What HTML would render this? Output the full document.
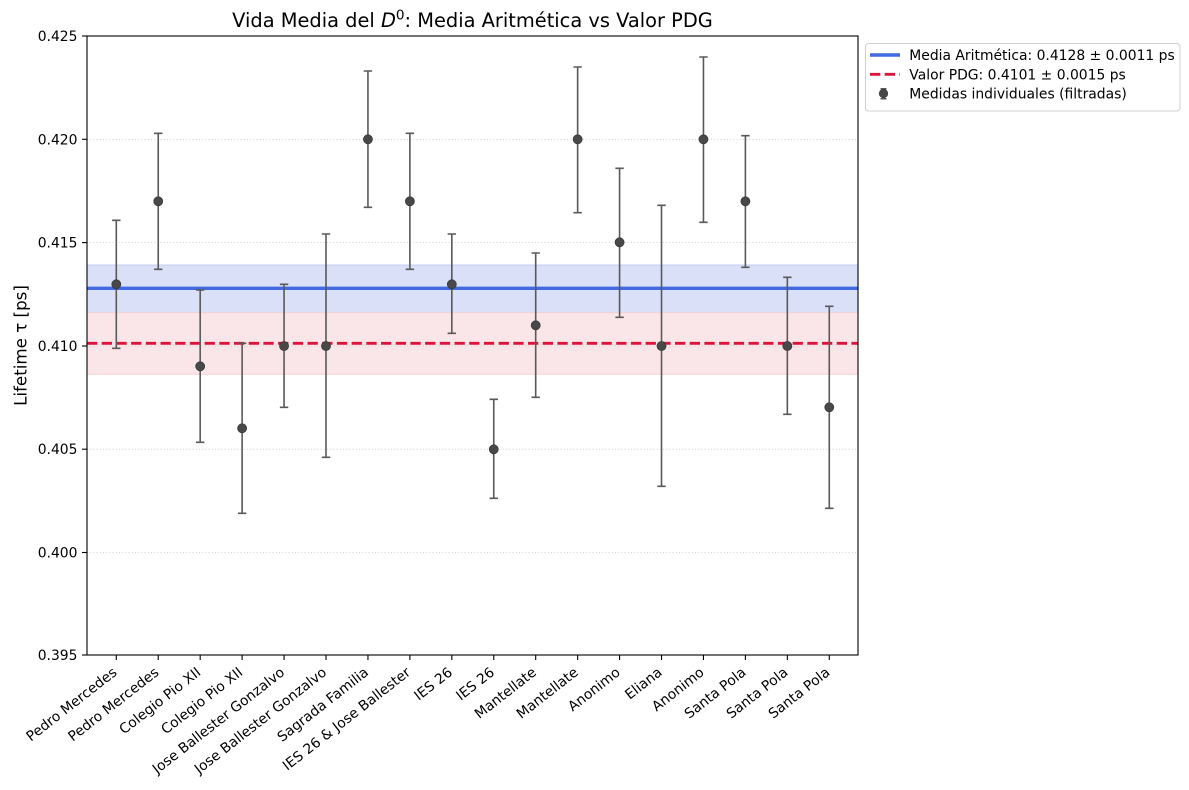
<!DOCTYPE html>
<html>
<head>
<meta charset="utf-8">
<style>
html,body{margin:0;padding:0;background:#fff;}
svg{display:block;font-family:"DejaVu Sans","Liberation Sans",sans-serif;}
</style>
</head>
<body>
<svg width="1189" height="790" viewBox="0 0 1189 790" xmlns="http://www.w3.org/2000/svg">
<rect x="0" y="0" width="1189" height="790" fill="#fff"/>

<!-- bands -->
<rect x="87" y="265" width="771" height="47.7" fill="#d9e0f8" stroke="#c3cdf3" stroke-width="1"/>
<rect x="87" y="312.7" width="771" height="61.6" fill="#fae5e9" stroke="#f6d3da" stroke-width="1"/>

<!-- grid -->
<g stroke="#c8c8c8" stroke-width="0.8" stroke-dasharray="1,2.2">
<line x1="87" y1="139.3" x2="858" y2="139.3"/>
<line x1="87" y1="242.6" x2="858" y2="242.6"/>
<line x1="87" y1="346" x2="858" y2="346"/>
<line x1="87" y1="449.2" x2="858" y2="449.2"/>
<line x1="87" y1="552.5" x2="858" y2="552.5"/>
</g>

<!-- mean & pdg lines -->
<line x1="87" y1="288.3" x2="858" y2="288.3" stroke="#4169e1" stroke-width="3.4"/>
<line x1="87" y1="343.3" x2="858" y2="343.3" stroke="#dc143c" stroke-width="2.8" stroke-dasharray="10.3,4.4"/>

<!-- error bars -->
<g stroke="#595959" stroke-width="1.6" fill="none">
<path d="M116.3 220.3V348.3M112.1 220.3h8.4M112.1 348.3h8.4"/>
<path d="M158.24 133.3V269.3M154.04 133.3h8.4M154.04 269.3h8.4"/>
<path d="M200.18 290V442.3M195.98 290h8.4M195.98 442.3h8.4"/>
<path d="M242.12 343.3V513.3M237.92 343.3h8.4M237.92 513.3h8.4"/>
<path d="M284.06 284.3V407.3M279.86 284.3h8.4M279.86 407.3h8.4"/>
<path d="M326 234V457.3M321.8 234h8.4M321.8 457.3h8.4"/>
<path d="M367.94 71V207.3M363.74 71h8.4M363.74 207.3h8.4"/>
<path d="M409.88 133.3V269.3M405.68 133.3h8.4M405.68 269.3h8.4"/>
<path d="M451.82 234V333.3M447.62 234h8.4M447.62 333.3h8.4"/>
<path d="M493.76 399.3V498.3M489.56 399.3h8.4M489.56 498.3h8.4"/>
<path d="M535.7 253V397.3M531.5 253h8.4M531.5 397.3h8.4"/>
<path d="M577.64 67V212.7M573.44 67h8.4M573.44 212.7h8.4"/>
<path d="M619.58 168.3V317.3M615.38 168.3h8.4M615.38 317.3h8.4"/>
<path d="M661.52 205.3V486.3M657.32 205.3h8.4M657.32 486.3h8.4"/>
<path d="M703.46 57V222.3M699.26 57h8.4M699.26 222.3h8.4"/>
<path d="M745.4 135.7V267.3M741.2 135.7h8.4M741.2 267.3h8.4"/>
<path d="M787.34 277.3V414.3M783.14 277.3h8.4M783.14 414.3h8.4"/>
<path d="M829.28 306.3V508.3M825.08 306.3h8.4M825.08 508.3h8.4"/>
</g>
<g fill="#484848" stroke="#3a3a3a" stroke-width="0.8">
<circle cx="116.3" cy="284.3" r="4.5"/>
<circle cx="158.24" cy="201.3" r="4.5"/>
<circle cx="200.18" cy="366.3" r="4.5"/>
<circle cx="242.12" cy="428.3" r="4.5"/>
<circle cx="284.06" cy="346" r="4.5"/>
<circle cx="326" cy="346" r="4.5"/>
<circle cx="367.94" cy="139.3" r="4.5"/>
<circle cx="409.88" cy="201.3" r="4.5"/>
<circle cx="451.82" cy="284.3" r="4.5"/>
<circle cx="493.76" cy="449.3" r="4.5"/>
<circle cx="535.7" cy="325.3" r="4.5"/>
<circle cx="577.64" cy="139.3" r="4.5"/>
<circle cx="619.58" cy="242.3" r="4.5"/>
<circle cx="661.52" cy="346" r="4.5"/>
<circle cx="703.46" cy="139.3" r="4.5"/>
<circle cx="745.4" cy="201.3" r="4.5"/>
<circle cx="787.34" cy="346" r="4.5"/>
<circle cx="829.28" cy="407.3" r="4.5"/>
</g>

<!-- axes frame -->
<rect x="87" y="36" width="771" height="619" fill="none" stroke="#000" stroke-width="1.1"/>

<!-- y ticks -->
<g stroke="#000" stroke-width="1.1">
<line x1="82" y1="36" x2="87" y2="36"/>
<line x1="82" y1="139.3" x2="87" y2="139.3"/>
<line x1="82" y1="242.6" x2="87" y2="242.6"/>
<line x1="82" y1="346" x2="87" y2="346"/>
<line x1="82" y1="449.2" x2="87" y2="449.2"/>
<line x1="82" y1="552.5" x2="87" y2="552.5"/>
<line x1="82" y1="655" x2="87" y2="655"/>
</g>
<g font-size="13.9" text-anchor="end" fill="#000">
<text x="77.5" y="41">0.425</text>
<text x="77.5" y="144.3">0.420</text>
<text x="77.5" y="247.6">0.415</text>
<text x="77.5" y="351">0.410</text>
<text x="77.5" y="454.2">0.405</text>
<text x="77.5" y="557.5">0.400</text>
<text x="77.5" y="660">0.395</text>
</g>

<!-- x ticks -->
<g stroke="#000" stroke-width="1.1">
<line x1="116.3" y1="655" x2="116.3" y2="660"/>
<line x1="158.24" y1="655" x2="158.24" y2="660"/>
<line x1="200.18" y1="655" x2="200.18" y2="660"/>
<line x1="242.12" y1="655" x2="242.12" y2="660"/>
<line x1="284.06" y1="655" x2="284.06" y2="660"/>
<line x1="326" y1="655" x2="326" y2="660"/>
<line x1="367.94" y1="655" x2="367.94" y2="660"/>
<line x1="409.88" y1="655" x2="409.88" y2="660"/>
<line x1="451.82" y1="655" x2="451.82" y2="660"/>
<line x1="493.76" y1="655" x2="493.76" y2="660"/>
<line x1="535.7" y1="655" x2="535.7" y2="660"/>
<line x1="577.64" y1="655" x2="577.64" y2="660"/>
<line x1="619.58" y1="655" x2="619.58" y2="660"/>
<line x1="661.52" y1="655" x2="661.52" y2="660"/>
<line x1="703.46" y1="655" x2="703.46" y2="660"/>
<line x1="745.4" y1="655" x2="745.4" y2="660"/>
<line x1="787.34" y1="655" x2="787.34" y2="660"/>
<line x1="829.28" y1="655" x2="829.28" y2="660"/>
</g>
<g font-size="13.9" text-anchor="end" fill="#000">
<text transform="translate(117.8,674) rotate(-38)">Pedro Mercedes</text>
<text transform="translate(159.7,674) rotate(-38)">Pedro Mercedes</text>
<text transform="translate(201.7,674) rotate(-38)">Colegio Pio XII</text>
<text transform="translate(243.6,674) rotate(-38)">Colegio Pio XII</text>
<text transform="translate(285.5,674) rotate(-38)">Jose Ballester Gonzalvo</text>
<text transform="translate(327.5,674) rotate(-38)">Jose Ballester Gonzalvo</text>
<text transform="translate(369.4,674) rotate(-38)">Sagrada Familia</text>
<text transform="translate(411.4,674) rotate(-38)">IES 26 &amp; Jose Ballester</text>
<text transform="translate(453.3,674) rotate(-38)">IES 26</text>
<text transform="translate(495.3,674) rotate(-38)">IES 26</text>
<text transform="translate(537.2,674) rotate(-38)">Mantellate</text>
<text transform="translate(579.1,674) rotate(-38)">Mantellate</text>
<text transform="translate(621.1,674) rotate(-38)">Anonimo</text>
<text transform="translate(663,674) rotate(-38)">Eliana</text>
<text transform="translate(705,674) rotate(-38)">Anonimo</text>
<text transform="translate(746.9,674) rotate(-38)">Santa Pola</text>
<text transform="translate(788.8,674) rotate(-38)">Santa Pola</text>
<text transform="translate(830.8,674) rotate(-38)">Santa Pola</text>
</g>

<!-- y label -->
<text transform="translate(26.5,345.5) rotate(-90)" font-size="16.7" text-anchor="middle" fill="#000">Lifetime τ [ps]</text>

<!-- title -->
<text x="472.5" y="27" font-size="19.4" text-anchor="middle" fill="#000">Vida Media del <tspan font-style="italic">D</tspan><tspan dy="-7.5" font-size="13.6">0</tspan><tspan dy="7.5">: Media Aritmética vs Valor PDG</tspan></text>

<!-- legend -->
<rect x="865.5" y="43.5" width="314.5" height="67.5" rx="3" ry="3" fill="#fff" fill-opacity="0.85" stroke="#d0d0d0" stroke-width="1"/>
<line x1="870" y1="55" x2="900" y2="55" stroke="#4169e1" stroke-width="3.4"/>
<line x1="870" y1="74.3" x2="900" y2="74.3" stroke="#dc143c" stroke-width="2.8" stroke-dasharray="10.3,4.4"/>
<g stroke="#595959" stroke-width="1.5">
<path d="M883.5 88.8V98.8M880.5 88.8h6M880.5 98.8h6"/>
</g>
<circle cx="883.5" cy="93.5" r="4.2" fill="#484848" stroke="#3a3a3a" stroke-width="0.8"/>
<g font-size="13.9" fill="#000">
<text x="909.3" y="60">Media Aritmética: 0.4128 ± 0.0011 ps</text>
<text x="909.3" y="79.3">Valor PDG: 0.4101 ± 0.0015 ps</text>
<text x="909.3" y="98.3">Medidas individuales (filtradas)</text>
</g>
</svg>
</body>
</html>
